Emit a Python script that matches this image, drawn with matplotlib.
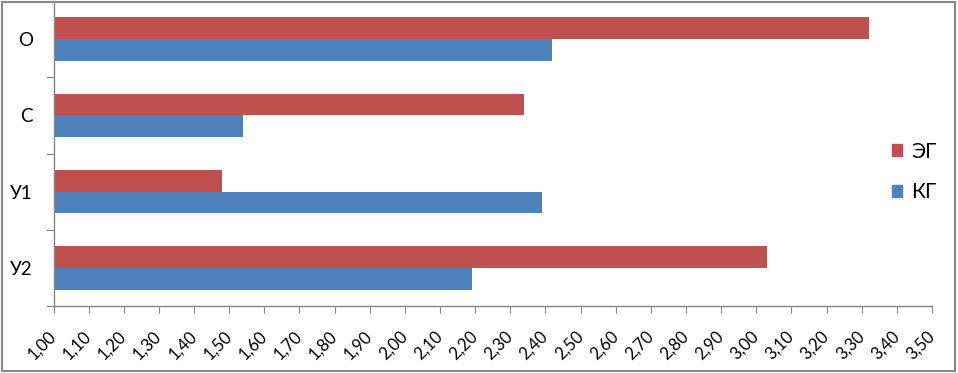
import matplotlib
matplotlib.use("Agg")
import matplotlib.pyplot as plt
from matplotlib.patches import Patch, Rectangle
import numpy as np

categories = ["О", "С", "У1", "У2"]
eg_values = [3.32, 2.34, 1.48, 3.03]
kg_values = [2.42, 1.54, 2.39, 2.19]
series_labels = ["ЭГ", "КГ"]
x_ticks = np.round(np.arange(1.0, 3.501, 0.1), 2)
x_tick_labels = [f"{v:.2f}".replace(".", ",") for v in x_ticks]

red = "#C0504D"
blue = "#4F81BD"
axis_gray = "#868686"

plt.rcParams["font.family"] = ["Lato", "DejaVu Sans"]

fig = plt.figure(figsize=(9.58, 3.73), dpi=100)
ax = fig.add_axes([53.5 / 958, 1 - 306 / 373, (932 - 53.5) / 958, 305 / 373])

y = np.arange(len(categories))
h = 0.285
ax.barh(y - h / 2, [v - 1.0 for v in eg_values], left=1.0, height=h, color=red, label=series_labels[0])
ax.barh(y + h / 2, [v - 1.0 for v in kg_values], left=1.0, height=h, color=blue, label=series_labels[1])

ax.set_xlim(1.0, 3.5)
ax.set_ylim(3.5, -0.5)

ax.set_xticks(x_ticks)
ax.set_xticklabels(x_tick_labels, rotation=45, ha="right", va="center", fontsize=12,
                   rotation_mode="anchor")
ax.tick_params(axis="x", direction="out", length=5, color=axis_gray, pad=15)

ax.set_yticks(np.arange(-0.5, len(categories), 1.0))
ax.set_yticklabels([])
ax.set_yticks(y, minor=True)
ax.set_yticklabels(categories, minor=True, fontsize=13.5)
ax.tick_params(axis="y", which="major", direction="out", length=6, color=axis_gray)
ax.tick_params(axis="y", which="minor", length=0, pad=14.8)

for s in ["top", "right"]:
    ax.spines[s].set_visible(False)
for s in ["left", "bottom"]:
    ax.spines[s].set_color(axis_gray)
    ax.spines[s].set_linewidth(1.0)

handles = [Patch(color=red), Patch(color=blue)]
fig.legend(handles, series_labels, loc="center left", bbox_to_anchor=(892 / 958, 1 - 172 / 373),
           frameon=False, fontsize=15, handlelength=0.48, handleheight=0.48,
           handletextpad=0.45, labelspacing=1.0, borderpad=0, borderaxespad=0)

fig.add_artist(Rectangle((2 / 958, 2 / 373), 953 / 958, 369 / 373, transform=fig.transFigure,
                         fill=False, edgecolor="#8a8a8a", linewidth=1.5))

fig.savefig("out.png", dpi=100)
